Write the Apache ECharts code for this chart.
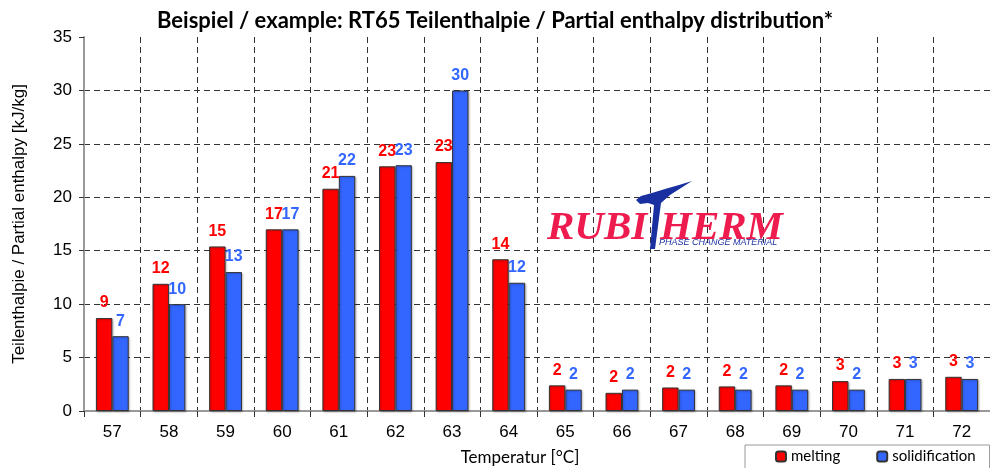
<!DOCTYPE html>
<html>
<head>
<meta charset="utf-8">
<script src="https://cdn.jsdelivr.net/npm/echarts@6/dist/echarts.min.js"></script>
<style>
  html, body { margin: 0; padding: 0; background: #fff; }
  #container { width: 990px; height: 468px; }
</style>
</head>
<body>
<div id="container"></div>
<script>
// Temperaturstufen (°C)
var temps = ['57', '58', '59', '60', '61', '62', '63', '64', '65', '66', '67', '68', '69', '70', '71', '72'];
// Teilenthalpie in kJ/kg
var melting = [8.7, 11.9, 15.4, 17.0, 20.8, 22.9, 23.3, 14.2, 2.4, 1.7, 2.2, 2.3, 2.4, 2.8, 3.0, 3.2];
var solidification = [7.0, 10.0, 13.0, 17.0, 22.0, 23.0, 30.0, 12.0, 2.0, 2.0, 2.0, 2.0, 2.0, 2.0, 3.0, 3.0];

var dom = document.getElementById('container');
var myChart = echarts.init(dom);

var labelFont = 'Liberation Sans, Arial, sans-serif';

function barSeries(name, data, color) {
    return {
        name: name,
        type: 'bar',
        data: data,
        barGap: '0%',
        barCategoryGap: '42%',
        itemStyle: {
            color: color,
            borderColor: '#333',
            borderWidth: 1,
            shadowColor: 'rgba(0,0,0,0.25)',
            shadowOffsetX: 1,
            shadowOffsetY: 1,
            shadowBlur: 2
        },
        label: {
            show: true,
            position: 'top',
            distance: 7,
            color: color,
            fontFamily: labelFont,
            fontWeight: 'bold',
            fontSize: 16,
            formatter: function (p) { return Math.round(p.value); }
        }
    };
}

// Logo-Schwung (blaues T)
var swoosh = [[636, 200], [641, 196], [652, 193], [665, 189], [679, 185], [692, 181], [681, 188], [670, 195],
              [661, 203], [655, 249], [650, 249], [654, 205], [648, 203], [640, 204]];

var option = {
    animation: false,
    title: {
        text: 'Beispiel / example: RT65 Teilenthalpie / Partial enthalpy distribution*',
        left: 'center',
        top: 5,
        textStyle: { fontFamily: 'Lato', fontWeight: 'bold', fontSize: 22, color: '#000' }
    },
    legend: {
        data: ['melting', 'solidification'],
        left: 745,
        top: 445,
        padding: [4, 14, 8, 30],
        itemWidth: 10,
        itemHeight: 10,
        itemGap: 36,
        borderColor: '#999',
        borderWidth: 1,
        textStyle: { fontFamily: 'Lato', fontSize: 15, color: '#000' }
    },
    grid: { left: 84, right: 0, top: 37, bottom: 57, outerBoundsMode: 'none' },
    xAxis: {
        type: 'category',
        data: temps,
        name: 'Temperatur [°C]',
        nameLocation: 'middle',
        nameGap: 38,
        nameTextStyle: { fontFamily: 'Lato', fontSize: 17, color: '#000', padding: [0, 34, 0, 0] },
        axisLine: { lineStyle: { color: '#999', width: 2 } },
        axisTick: { show: true, length: 6, lineStyle: { color: '#333' } },
        axisLabel: { fontFamily: labelFont, fontSize: 17, color: '#000', margin: 13 },
        splitLine: { show: true, lineStyle: { color: '#333', type: [6, 4], width: 1 } }
    },
    yAxis: {
        type: 'value',
        min: 0,
        max: 35,
        interval: 5,
        name: 'Teilenthalpie / Partial enthalpy [kJ/kg]',
        nameLocation: 'middle',
        nameGap: 56,
        nameTextStyle: { fontFamily: labelFont, fontSize: 17, color: '#000' },
        axisLine: { show: true, lineStyle: { color: '#999', width: 2 } },
        axisTick: { show: true, length: 5, lineStyle: { color: '#333' } },
        axisLabel: { fontFamily: labelFont, fontSize: 17, color: '#000', margin: 12 },
        splitLine: { show: true, showMaxLine: false, lineStyle: { color: '#333', type: [6, 4], width: 1 } }
    },
    series: [
        barSeries('melting', melting, '#FF0000'),
        barSeries('solidification', solidification, '#3366FF')
    ],
    graphic: [
        { type: 'text', x: 547, y: 208, z: 10,
          style: { text: 'RUBI', fill: '#EE1C4E', font: 'italic bold 41px "Liberation Serif", serif' } },
        { type: 'text', x: 660, y: 208, z: 10,
          style: { text: 'HERM', fill: '#EE1C4E', font: 'italic bold 41px "Liberation Serif", serif' } },
        { type: 'polygon', z: 11, shape: { points: swoosh }, style: { fill: '#1A2FA0' } },
        { type: 'text', x: 659, y: 238, z: 10,
          style: { text: 'PHASE CHANGE MATERIAL', fill: '#1A2FA0', font: 'italic 9px "Liberation Sans", sans-serif' } }
    ]
};
myChart.setOption(option, true);
</script>
</body>
</html>
